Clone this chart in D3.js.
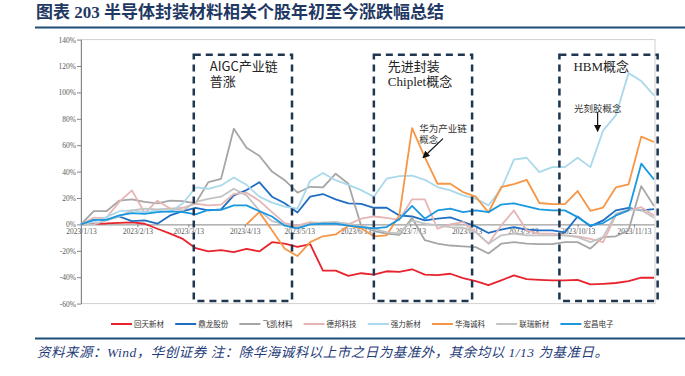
<!DOCTYPE html>
<html>
<head>
<meta charset="utf-8">
<script src="https://cdn.jsdelivr.net/npm/d3@7"></script>
<style>
  body { margin: 0; background: #fff; }
  svg text { font-family: "Liberation Serif", "Noto Sans CJK SC", serif; }
</style>
</head>
<body>
<div id="chart"></div>
<script>
// weekly closes, % change vs base day (1/13; 华海诚科 vs listing day)
const startDate = new Date(2023, 0, 13);
const dates = d3.range(46).map(i => d3.timeDay.offset(startDate, i * 7));

const names = ["回天新材", "鼎龙股份", "飞凯材料", "德邦科技", "强力新材", "华海诚科", "联瑞新材", "宏昌电子"];
const colors = ["#e8232d", "#1f6ec3", "#a6a6a6", "#e6b5b4", "#a9d9ea", "#f79646", "#c3c3c3", "#1b98df"];

const huitian = [0, 0.5, 0.7, 1.2, 1.5, 0.5, -3.3, -7, -11, -18, -20.5, -19.5, -21, -18.5, -20.5, -13.5, -14.5, -17, -15, -35,
  -35, -39, -37, -38, -35.5, -36, -34, -38, -38.4, -37.4, -40.7, -43, -46, -42.4, -38.6, -41.4, -42, -42.4, -42.4, -42,
  -45.5, -45, -44.4, -43, -40.4, -40.4];
const dinglong = [0, 3.5, 3.5, 6, 2.5, 3, 0.5, 6.8, 10, 12.6, 10.6, 11.4, 22, 26, 32, 21, 16, 9, 21, 23,
  19, 16, 15.5, 12.6, 12.6, 6.8, 6, 3, 4.3, 5.3, 2, -1.5, -6.5, -4, -2, -4, -4.5, -4.5, -6, 6,
  -1.5, 3, 10.6, 12.6, 10.6, 11.5];
const feikai = [0, 10, 10, 18, 19, 17, 16, 18, 17.7, 16, 32, 34.5, 72.5, 58, 52, 40, 33.5, 24, 28.5, 28,
  38.4, 30.8, -1, -5, -7, -8, 5, -12, -14.6, -16, -16.7, -17.2, -22, -14.6, -13.4, -14.6, -15, -15, -13.4, -13.4,
  -18.4, -9.6, -9, -4.5, 29, 14];
const debang = [0, 5, 5, 17, 25.8, 8.6, 18, 12, 12.6, 15.7, 14.4, 15, 23, 24, 18, 9.3, 1, -1, 1.8, 1,
  1.8, 0, 4.3, 6, 5, 3.5, 19, 19, -3.3, 0, 1.8, -5.8, -14.6, -0.8, 10.6, -4.5, -7, -7, -8.3, -9,
  -11, -13.4, 6.8, 10.6, 13, 6.8];
const qiangli = [0, 1.8, 5.5, 10, 10.6, 9.3, 10.6, 9.3, 16, 28, 27, 29.5, 35.5, 30, 21, 16.5, 13.5, 12, 33, 39,
  33.5, 30, 26, 21, 34.6, 36.6, 37, 33.8, 28.3, 25.8, 22, 19.4, 14.4, 27, 49, 50.5, 39.6, 43.4, 43.4, 50.5,
  43.4, 71, 82.6, 114.6, 108.6, 97.7];
const huahai = [null, null, null, null, null, null, null, null, null, null, null, null, null,
  0, 9.3, -4.5, -18.4, -24, -13.4, -9, -7.6, -1, -3, -9, -8.3, 6.8, 73, 51, 30.8, 30.8,
  24.5, 21, 9, 28.3, 30.5, 33.8, 16.2, 15.3, 15.3, 25.3, 10.3, 12.8, 28, 30.3, 66.5, 62.4];
const lianrui = [0, 0, 3, 6, 10.6, 12, 11.4, 12, 10.6, 17, 19.4, 21, 27, 22, 10.6, 2.5, 0, -2, 0.5, 1.5,
  1.5, 0.5, -1.5, -3.3, -5.8, -7, 3, 0.5, -0.8, -2, -2.5, -5.8, -14.6, -8.3, -7, -8.3, -8.3, -8.3, -8.3, -9.6,
  -13.4, -9.6, 8, 11.4, 11, 5];
const hongchang = [0, 3.5, 3.5, 6.8, 8.6, 8, 9.3, 9.8, 9.3, 7.6, 11, 11, 14.4, 14.4, 10, 6, -1, -3, 0, 0.5,
  0.5, -1, -2, -3, -2, 4, 14, 4.3, 10.6, 12, 9.3, 10.6, 9.3, 15, 16, 13.6, 11.4, 10.6, 10.6, 5.5,
  -0.8, 1, 6.8, 10.6, 46, 34];
const seriesValues = [huitian, dinglong, feikai, debang, qiangli, huahai, lianrui, hongchang];

const yTicks = [-60, -40, -20, 0, 20, 40, 60, 80, 100, 120, 140];
const xTicks = d3.range(11).map(m => new Date(2023, m, 13));

// theme boxes: date span + label lines
const boxes = [
  { from: new Date(2023, 2, 16), to: new Date(2023, 4, 9), lines: ["AIGC产业链", "普涨"], sans: true },
  { from: new Date(2023, 5, 23), to: new Date(2023, 7, 16), lines: ["先进封装", "Chiplet概念"], sans: false },
  { from: new Date(2023, 9, 3), to: new Date(2023, 10, 26), lines: ["HBM概念"], sans: false }
];
const boxTop = 128.5, boxBottom = -58;

const notes = [
  { lines: ["华为产业链", "概念"], at: new Date(2023, 6, 18), v: 70, from: [new Date(2023, 6, 31), 65], to: [new Date(2023, 6, 20), 50.5] },
  { lines: ["光刻胶概念"], at: new Date(2023, 9, 11), v: 85, from: [new Date(2023, 9, 24), 85], to: [new Date(2023, 9, 24), 70.5] }
];

const W = 685, H = 376;
const svg = d3.select("#chart").append("svg").attr("width", W).attr("height", H);
svg.append("rect").attr("width", W).attr("height", H).attr("fill", "#fff");

// title
svg.append("text")
  .attr("x", 36).attr("y", 18)
  .attr("fill", "#1f3864")
  .style("font-size", "17px").style("font-weight", "bold")
  .text("图表 203  半导体封装材料相关个股年初至今涨跌幅总结");
svg.append("line").attr("x1", 35).attr("x2", W).attr("y1", 27.5).attr("y2", 27.5)
  .attr("stroke", "#1f4e79").attr("stroke-width", 2);

const x = d3.scaleTime().domain([startDate, dates[dates.length - 1]]).range([81, 654]);
const y = d3.scaleLinear().domain([-60, 140]).range([303.6, 39.6]);

// plot frame
svg.append("rect")
  .attr("x", 81).attr("y", y(140)).attr("width", 574).attr("height", y(-60) - y(140))
  .attr("fill", "none").attr("stroke", "#d0d0d0");

const yAxis = svg.append("g")
  .attr("transform", "translate(81,0)")
  .call(d3.axisLeft(y).tickValues(yTicks).tickSize(4).tickSizeOuter(0).tickPadding(1).tickFormat(d => d + "%"));
yAxis.select(".domain").attr("stroke", "#868686");
yAxis.selectAll(".tick line").attr("stroke", "#868686");
yAxis.selectAll("text").attr("fill", "#595959").style("font-size", "7.5px")
  .style("font-family", "Liberation Serif");

const xAxis = svg.append("g")
  .attr("transform", `translate(0,${y(0)})`)
  .call(d3.axisBottom(x).tickValues(xTicks).tickSize(3).tickSizeOuter(0).tickPadding(1.5)
    .tickFormat(d => `${d.getFullYear()}/${d.getMonth() + 1}/${d.getDate()}`));
xAxis.select(".domain").attr("stroke", "#868686");
xAxis.selectAll(".tick line").attr("stroke", "#868686");
xAxis.selectAll("text").attr("fill", "#595959").style("font-size", "7.5px")
  .style("font-family", "Liberation Serif");

// series
const line = d3.line()
  .defined(d => d != null)
  .x((d, i) => x(dates[i]))
  .y(d => y(d));

seriesValues.forEach((vals, i) => {
  svg.append("path")
    .datum(vals)
    .attr("fill", "none")
    .attr("stroke", colors[i])
    .attr("stroke-width", 1.8)
    .attr("stroke-linejoin", "round")
    .attr("d", line);
});

// dashed theme boxes
boxes.forEach(b => {
  const x0 = x(b.from), x1 = x(b.to);
  svg.append("rect")
    .attr("x", x0).attr("y", y(boxTop))
    .attr("width", x1 - x0).attr("height", y(boxBottom) - y(boxTop))
    .attr("fill", "none").attr("stroke", "#1f3550")
    .attr("stroke-width", 2.5).attr("stroke-dasharray", "7,5");
  b.lines.forEach((t, j) => {
    svg.append("text")
      .attr("x", x0 + (b.sans ? 16 : 14))
      .attr("y", y(boxTop) + 16 + j * 15.5)
      .attr("fill", "#222")
      .style("font-size", "13px")
      .style("font-family", b.sans ? "'Noto Sans CJK SC', sans-serif" : "'Liberation Serif', 'Noto Sans CJK SC', serif")
      .text(t);
  });
});

// arrows + notes
svg.append("defs").append("marker")
  .attr("id", "arrow").attr("viewBox", "0 0 10 10")
  .attr("refX", 9).attr("refY", 5)
  .attr("markerWidth", 6).attr("markerHeight", 6)
  .attr("orient", "auto")
  .append("path").attr("d", "M0,0 L10,5 L0,10 z").attr("fill", "#111");

notes.forEach(n => {
  n.lines.forEach((t, j) => {
    svg.append("text")
      .attr("x", x(n.at)).attr("y", y(n.v) + j * 11)
      .attr("fill", "#333")
      .style("font-size", "9.5px")
      .style("font-family", "'Noto Sans CJK SC', sans-serif")
      .text(t);
  });
  svg.append("line")
    .attr("x1", x(n.from[0])).attr("y1", y(n.from[1]))
    .attr("x2", x(n.to[0])).attr("y2", y(n.to[1]))
    .attr("stroke", "#111").attr("stroke-width", 1.2)
    .attr("marker-end", "url(#arrow)");
});

// legend
const legend = svg.append("g").attr("transform", "translate(111,324)");
names.forEach((name, i) => {
  const g = legend.append("g").attr("transform", `translate(${i * 64.2},0)`);
  g.append("line").attr("x1", 0).attr("x2", 21).attr("stroke", colors[i]).attr("stroke-width", 2);
  g.append("text").attr("x", 23).attr("y", 2.6)
    .attr("fill", "#333")
    .style("font-size", "7.5px")
    .style("font-family", "'Noto Sans CJK SC', sans-serif")
    .text(name);
});

// footer
svg.append("line").attr("x1", 35).attr("x2", W).attr("y1", 338.5).attr("y2", 338.5)
  .attr("stroke", "#1f4e79").attr("stroke-width", 2);
svg.append("text")
  .attr("x", 37).attr("y", 357)
  .attr("fill", "#1f3c78")
  .style("font-size", "13.5px").style("font-style", "italic")
  .style("letter-spacing", "0.5px")
  .text("资料来源：Wind，华创证券 注：除华海诚科以上市之日为基准外，其余均以 1/13 为基准日。");
</script>
</body>
</html>
